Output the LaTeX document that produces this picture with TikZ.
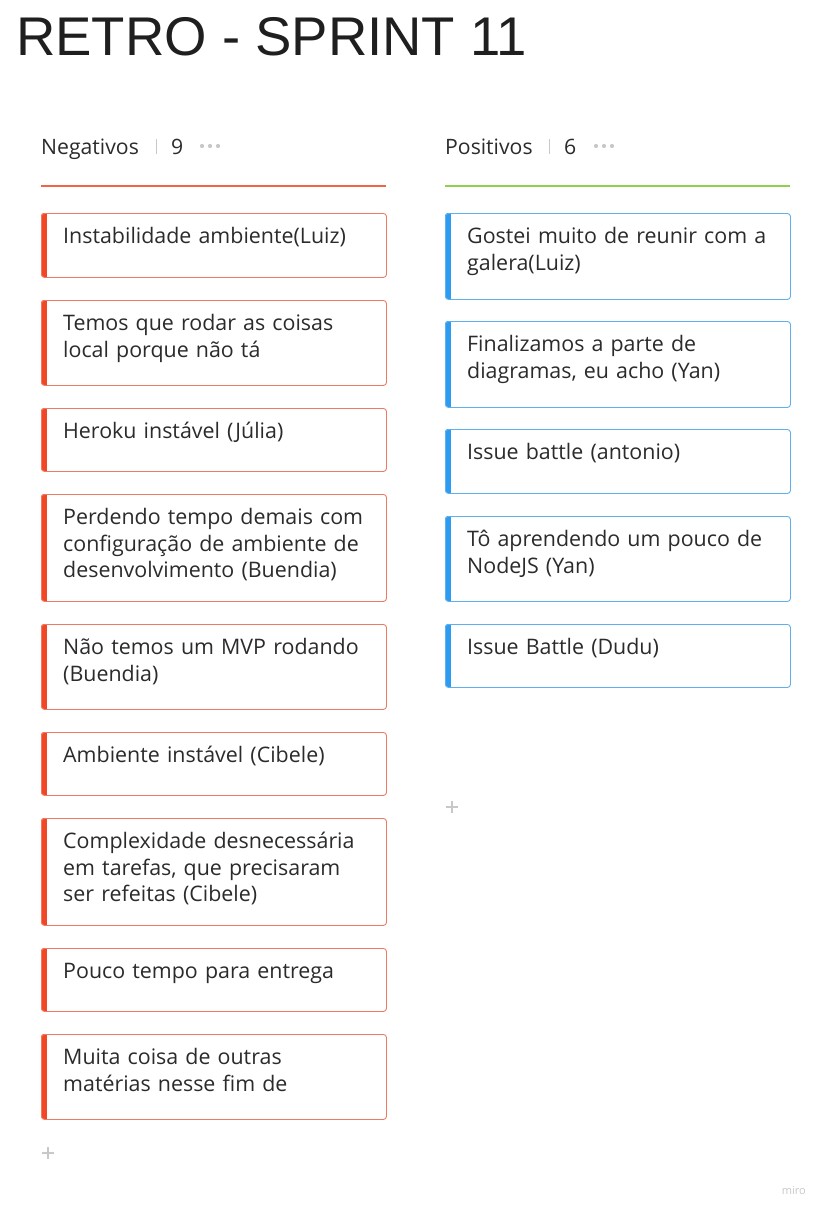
\documentclass[tikz,border=0pt]{standalone}
\usepackage{fontspec}
\setmainfont{Open Sans}
\newfontfamily\titlefont{Liberation Sans}
\definecolor{negred}{HTML}{F24726}
\definecolor{negborder}{HTML}{EE7A62}
\definecolor{posblue}{HTML}{2D9BF0}
\definecolor{posborder}{HTML}{5FB0EC}
\definecolor{posgreen}{HTML}{8FD14F}
\definecolor{txt}{HTML}{2B2B2B}
\definecolor{lightgray}{HTML}{C8C8C8}
\tikzset{
  cardtext/.style={anchor=north west, inner sep=0pt, align=left, text width=310pt, text=txt, font=\fontsize{21.4}{26.8}\selectfont},
  headtext/.style={anchor=base west, inner sep=0pt, text=txt, font=\fontsize{21.2}{24}\selectfont},
  plussign/.style={draw=lightgray, line width=1.3pt},
}
\newcommand\mycard[7]{%
  % #1 name, #2 x left, #3 top, #4 bottom, #5 stripe colour, #6 border colour, #7 text
  \begin{scope}
    \clip[rounded corners=3pt] (#2,#3) rectangle (#2+345,#4);
    \fill[white] (#2,#3) rectangle (#2+345,#4);
    \fill[#5] (#2,#3) rectangle (#2+6,#4);
  \end{scope}
  \node[draw=#6, line width=0.9pt, rounded corners=3pt, inner sep=0pt, anchor=north west,
        minimum width=345pt, minimum height={(#4)-(#3)}] (#1) at (#2,#3) {};
  \node[cardtext] (#1t) at (#2+22,#3+30-18) {\rule{0pt}{18pt}#7};
}
\begin{document}
\begin{tikzpicture}[x=1pt,y=-1pt]
\useasboundingbox[fill=white] (0,0) rectangle (824,1213);
% title
\node[anchor=base west, inner sep=0pt, text=black!88, font=\titlefont\fontsize{54.5}{60}\selectfont] (title) at (16,55) {RETRO - SPRINT 11};
% column headers
\node[headtext] (neghead) at (41,154) {Negativos};
\draw[lightgray, line width=0.8pt] (156,139) -- (156,154);
\node[headtext] (negcount) at (171,154) {9};
\foreach \i in {202,210,218} \fill[lightgray] (\i,146) circle (2.1);
\draw[negred!85, line width=2pt] (41,186) -- (386,186);
\node[headtext] (poshead) at (445,154) {Positivos};
\draw[lightgray, line width=0.8pt] (549,139) -- (549,154);
\node[headtext] (poscount) at (564,154) {6};
\foreach \i in {596,604,612} \fill[lightgray] (\i,146) circle (2.1);
\draw[posgreen, line width=2pt] (445,186) -- (790,186);
% negative cards
\mycard{n1}{41}{213}{277}{negred}{negborder}{Instabilidade ambiente(Luiz)}
\mycard{n2}{41}{300}{385}{negred}{negborder}{Temos que rodar as coisas\\local porque não tá}
\mycard{n3}{41}{408}{471}{negred}{negborder}{Heroku instável (Júlia)}
\mycard{n4}{41}{494}{601}{negred}{negborder}{Perdendo tempo demais com\\configuração de ambiente de\\desenvolvimento (Buendia)}
\mycard{n5}{41}{624}{709}{negred}{negborder}{Não temos um MVP rodando\\(Buendia)}
\mycard{n6}{41}{732}{795}{negred}{negborder}{Ambiente instável (Cibele)}
\mycard{n7}{41}{818}{925}{negred}{negborder}{Complexidade desnecessária\\em tarefas, que precisaram\\ser refeitas (Cibele)}
\mycard{n8}{41}{948}{1011}{negred}{negborder}{Pouco tempo para entrega}
\mycard{n9}{41}{1034}{1119}{negred}{negborder}{Muita coisa de outras\\matérias nesse fim de}
% positive cards
\mycard{p1}{445}{213}{299}{posblue}{posborder}{Gostei muito de reunir com a\\galera(Luiz)}
\mycard{p2}{445}{321}{407}{posblue}{posborder}{Finalizamos a parte de\\diagramas, eu acho (Yan)}
\mycard{p3}{445}{429}{493}{posblue}{posborder}{Issue battle (antonio)}
\mycard{p4}{445}{516}{601}{posblue}{posborder}{Tô aprendendo um pouco de\\NodeJS (Yan)}
\mycard{p5}{445}{624}{687}{posblue}{posborder}{Issue Battle (Dudu)}
% plus signs
\draw[plussign] (42,1153) -- (54,1153) (48,1147) -- (48,1159);
\draw[plussign] (446,807) -- (458,807) (452,801) -- (452,813);
% watermark
\node[anchor=base east, inner sep=0pt, text=lightgray, font=\fontsize{11}{12}\selectfont] (miro) at (806,1194) {miro};
\end{tikzpicture}
\end{document}
